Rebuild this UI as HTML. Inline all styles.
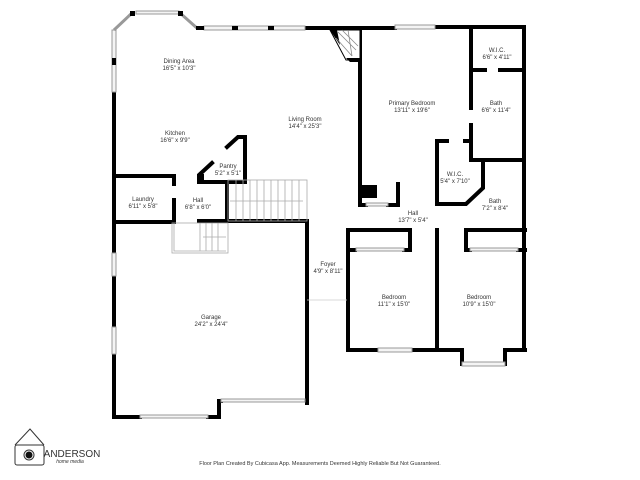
<!DOCTYPE html>
<html><head><meta charset="utf-8"><style>
html,body{margin:0;padding:0;background:#fff;width:640px;height:480px;overflow:hidden}
text{font-family:"Liberation Sans",sans-serif;fill:#333;font-size:6px;text-anchor:middle}
</style></head><body>
<svg width="640" height="480" viewBox="0 0 640 480" xmlns="http://www.w3.org/2000/svg">
<g stroke="#000" stroke-width="4" fill="none" stroke-linecap="square">
<path d="M114 94 V175 M114 175 V220 M114 222 V252 M114 277 V326 M114 355 V417 H140"/>
<path d="M208 417 H219 V401 H221"/>
<path d="M307 222 V403"/>
<path d="M305 28 H395 M360 28 V186"/>
<path d="M435 27 H524 V228 M524 228 V350"/>
<path d="M471 27 V108 M471 125 V160 H524 M471 70 H485 M500 70 H524"/>
<path d="M437 141 V204 H466 L483 188 V160 M437 141 H447 M465 141 H470"/>
<path d="M360 186 V205 H366 M388 205 H398 V184"/>
<path d="M348 230 V350 H378 M412 350 H462 V364 M505 364 V350 H525"/>
<path d="M348 230 H410 V250 H404 M348 250 H355"/>
<path d="M437 230 V350"/>
<path d="M466 230 H525 M466 230 V250 H470 M518 250 H525"/>
<path d="M114 176 H174 V184 M174 200 V222 H114"/>
<path d="M199 221 H307 M227 182 V221"/>
<path d="M199 182 H245 V137 H238 L227 147 M212 163 L199 175 V182"/>
</g>
<rect x="198" y="174" width="6" height="9" fill="#000"/>
<rect x="360" y="185" width="17" height="13" fill="#000"/>
<g stroke="#999" stroke-width="1" fill="#f4f4f4">
<rect x="112" y="30" width="4" height="62"/>
<rect x="112" y="253" width="4" height="23"/>
<rect x="112" y="327" width="4" height="27"/>
<rect x="136" y="11" width="43" height="3"/>
<rect x="204" y="26" width="101" height="4"/>
<rect x="395" y="25" width="40" height="4"/>
<rect x="378" y="348" width="34" height="4"/>
<rect x="462" y="362" width="43" height="4"/>
<rect x="140" y="415" width="68" height="3"/>
<rect x="221" y="399" width="84" height="3"/>
<rect x="366" y="203" width="22" height="3"/>
<rect x="356" y="248" width="48" height="3"/>
<rect x="470" y="248" width="48" height="3"/>
</g>
<g stroke="#999" stroke-width="3" fill="none">
<path d="M114 30 L132 13 M180 13 L198 29"/>
</g>
<g fill="#000"><rect x="130" y="11" width="5" height="5"/><rect x="178" y="11" width="5" height="5"/><rect x="112" y="58" width="4" height="7"/><rect x="232" y="26" width="6" height="4"/><rect x="268" y="26" width="6" height="4"/><rect x="196" y="26" width="8" height="4"/></g>
<path d="M330 30 H360 V60 H346 Z" fill="#fff" stroke="#000" stroke-width="1"/>
<path d="M330 30 L337 30 L340 45 Z M346 58 L360 58 V62 H350 Z" fill="#000"/>
<g stroke="#888" stroke-width="0.8"><path d="M338 32 L356 50 M342 30 L358 46 M336 38 L352 56 M348 30 L352 56"/></g>
<g stroke="#aaa" stroke-width="0.8" fill="none">
<rect x="228" y="180" width="79" height="41"/>
<path d="M236 180V221M243 180V221M250 180V221M257 180V221M264 180V221M271 180V221M278 180V221M285 180V221M292 180V221M299 180V221M230 201H303"/>
<rect x="172" y="223" width="56" height="30"/>
<path d="M174 223V251H226 M200 223V251M206 223V251M212 223V251M218 223V251M203 237H226"/>
<path d="M307 300 H347" stroke="#ccc"/>
</g>
<text x="179" y="63">Dining Area</text><text x="179" y="70">16'5" x 10'3"</text>
<text x="305" y="121">Living Room</text><text x="305" y="128">14'4" x 25'3"</text>
<text x="175" y="135">Kitchen</text><text x="175" y="142">16'6" x 9'9"</text>
<text x="228" y="168">Pantry</text><text x="228" y="175">5'2" x 5'1"</text>
<text x="143" y="201">Laundry</text><text x="143" y="208">6'11" x 5'8"</text>
<text x="198" y="202">Hall</text><text x="198" y="209">6'8" x 6'0"</text>
<text x="412" y="105">Primary Bedroom</text><text x="412" y="112">13'11" x 19'6"</text>
<text x="497" y="52">W.I.C.</text><text x="497" y="59">6'6" x 4'11"</text>
<text x="496" y="105">Bath</text><text x="496" y="112">6'6" x 11'4"</text>
<text x="455" y="176">W.I.C.</text><text x="455" y="183">5'4" x 7'10"</text>
<text x="495" y="203">Bath</text><text x="495" y="210">7'2" x 8'4"</text>
<text x="413" y="215">Hall</text><text x="413" y="222">13'7" x 5'4"</text>
<text x="328" y="266">Foyer</text><text x="328" y="273">4'9" x 8'11"</text>
<text x="394" y="299">Bedroom</text><text x="394" y="306">11'1" x 15'0"</text>
<text x="479" y="299">Bedroom</text><text x="479" y="306">10'9" x 15'0"</text>
<text x="211" y="319">Garage</text><text x="211" y="326">24'2" x 24'4"</text>
<text x="320" y="465" style="font-size:5.5px">Floor Plan Created By Cubicasa App. Measurements Deemed Highly Reliable But Not Guaranteed.</text>
<g stroke="#333" stroke-width="1" fill="none">
<path d="M15 445 L30 429 L44 445"/>
<rect x="15" y="445" width="29" height="20" rx="2"/>
<circle cx="29" cy="455" r="5"/>
</g>
<circle cx="29" cy="455" r="3.5" fill="#111"/>
<text x="72" y="457" style="font-size:10px;text-anchor:middle;fill:#333">ANDERSON</text>
<text x="70" y="463" style="font-size:5px;font-style:italic;fill:#333">home media</text>
</svg>
</body></html>
